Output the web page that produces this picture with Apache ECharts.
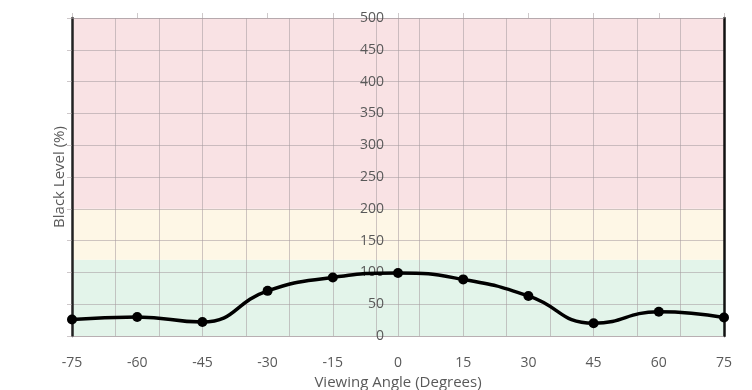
<!DOCTYPE html>
<html>
<head>
<meta charset="utf-8">
<script src="https://cdn.jsdelivr.net/npm/echarts@6/dist/echarts.min.js"></script>
<style>html,body{margin:0;padding:0;background:#fff}#c{width:752px;height:390px}</style>
</head>
<body>
<div id="c"></div>
<script>
const angles = [-75, -60, -45, -30, -15, 0, 15, 30, 45, 60, 75];
const blackLevel = [26, 30, 22, 71, 92, 99, 89, 63, 20, 38, 29];
const gridAngles = [-65, -55, -45, -35, -25, -15, -5, 0, 5, 15, 25, 35, 45, 55, 65];
const bands = [
  {from: 0, to: 120, color: '#e3f4ea'},
  {from: 120, to: 200, color: '#fef7e6'},
  {from: 200, to: 500, color: '#f9e2e4'}
];
const xTitle = 'Viewing Angle (Degrees)';
const yTitle = 'Black Level (%)';

const font = '"Open Sans", "Noto Sans", sans-serif';
const gridColor = 'rgba(165,155,158,0.55)';
const labelColor = '#595959';

const chart = echarts.init(document.getElementById('c'));
chart.setOption({
  animation: false,
  grid: {left: 72, right: 28, top: 18, bottom: 54, containLabel: false, outerBoundsMode: 'none'},
  xAxis: [
    {
      type: 'value', position: 'bottom', min: -75, max: 75, interval: 15, z: 3,
      axisLine: {show: true, onZero: false, lineStyle: {color: gridColor, width: 1}},
      axisTick: {show: false},
      splitLine: {show: false},
      axisLabel: {color: labelColor, fontSize: 14, fontFamily: font, margin: 20},
      name: xTitle, nameLocation: 'middle', nameGap: 34,
      nameTextStyle: {color: labelColor, fontSize: 15, fontFamily: font}
    },
    {
      type: 'value', position: 'top', min: -75, max: 75, interval: 15, z: 3,
      axisLine: {show: true, onZero: false, lineStyle: {color: gridColor, width: 1}},
      axisTick: {show: true, length: 5, lineStyle: {color: gridColor}},
      splitLine: {show: false},
      axisLabel: {show: false}
    }
  ],
  yAxis: [
    {
      type: 'value', position: 'left', min: 0, max: 500, interval: 50, z: 3,
      axisLine: {show: true, onZero: false, lineStyle: {color: '#222', width: 2.5}},
      axisTick: {show: true, length: 5, lineStyle: {color: gridColor}},
      axisLabel: {show: false},
      splitLine: {show: true, lineStyle: {color: gridColor, width: 1}},
      name: yTitle, nameLocation: 'middle', nameGap: 5,
      nameTextStyle: {color: labelColor, fontSize: 15, fontFamily: font}
    },
    {
      type: 'value', position: 'left', offset: -326, min: 0, max: 500, interval: 50, z: 4,
      axisLine: {show: false, onZero: false}, axisTick: {show: false}, splitLine: {show: false},
      axisLabel: {color: labelColor, fontSize: 14, fontFamily: font, margin: 14}
    },
    {
      type: 'value', position: 'right', min: 0, max: 500, interval: 50, z: 3,
      axisLine: {show: true, onZero: false, lineStyle: {color: '#111', width: 2.5}},
      axisTick: {show: false}, axisLabel: {show: false}, splitLine: {show: false}
    }
  ],
  series: [
    {
      type: 'line', data: [], z: 1, silent: true,
      markArea: {
        silent: true,
        data: bands.map(b => [
          {yAxis: b.from, itemStyle: {color: b.color}},
          {yAxis: b.to}
        ])
      },
      markLine: {
        silent: true, symbol: ['none', 'none'], label: {show: false},
        lineStyle: {color: gridColor, width: 1, type: 'solid'},
        emphasis: {disabled: true},
        data: gridAngles.map(a => ({xAxis: a}))
      }
    },
    {
      type: 'line', z: 6,
      data: angles.map((a, i) => [a, blackLevel[i]]),
      smooth: 0.5,
      symbol: 'circle', symbolSize: 10,
      itemStyle: {color: '#000'},
      lineStyle: {color: '#000', width: 3.5}
    }
  ]
});
</script>
</body>
</html>
